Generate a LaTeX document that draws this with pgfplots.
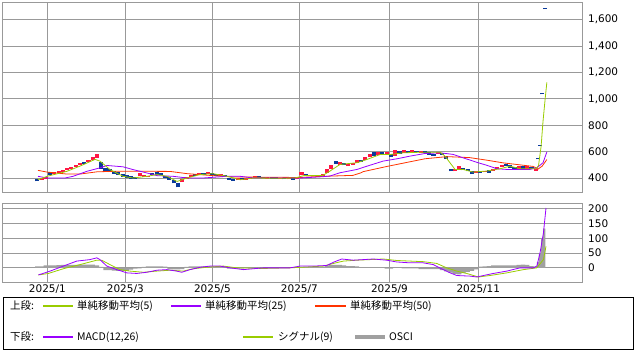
\documentclass[border=0pt]{standalone}
\usepackage{pgfplots}
\pgfplotsset{compat=1.18}
\usepackage{pgfplotstable}
\usepackage{fontspec}
\setmainfont{DejaVu Sans}
\newfontfamily\cjk{Noto Sans CJK JP}
\definecolor{gridgray}{HTML}{999999}
\definecolor{candleup}{HTML}{FF1744}
\definecolor{candledn}{HTML}{0A3A9A}
\definecolor{maA}{HTML}{99CC00}
\definecolor{maB}{HTML}{9900FF}
\definecolor{maC}{HTML}{FF3300}
\definecolor{oscigray}{HTML}{A0A0A0}

\pgfplotstableread{
d lo hi
2 385 398
4 392 408
8 432 448
10 440 455
12 448 462
14 458 475
16 470 485
18 482 500
20 495 515
24 520 540
26 535 560
28 555 585
48 415 435
50 410 425
52 405 418
68 370 392
70 395 410
72 410 425
76 420 435
80 428 442
86 415 428
94 382 398
98 388 400
100 392 405
102 400 412
108 395 405
114 392 402
118 390 402
122 392 404
124 425 448
130 415 425
134 418 430
136 440 470
138 470 500
142 500 520
146 490 505
148 500 515
150 515 535
154 535 560
156 560 585
160 578 598
164 575 595
168 570 612
172 590 610
176 590 612
180 592 606
188 580 595
196 450 468
198 468 490
206 440 455
210 442 455
214 455 468
216 465 480
218 480 500
226 470 490
230 472 490
234 455 470
}\upcandles

\pgfplotstableread{
d lo hi
0 375 390
6 420 445
22 505 525
30 470 520
32 455 478
34 445 465
36 430 455
38 425 445
40 410 430
42 400 420
44 395 412
46 395 410
54 420 438
56 425 442
58 420 438
60 402 415
62 385 405
64 360 385
66 330 360
74 415 430
78 425 440
82 425 438
84 418 430
88 410 425
90 388 402
92 380 395
96 385 398
104 403 415
106 398 410
110 395 405
112 393 404
116 390 400
120 388 400
126 418 432
128 412 425
132 412 424
140 505 530
144 495 512
152 520 540
158 570 595
162 580 598
166 560 580
170 585 605
174 588 605
178 595 608
182 588 602
184 575 595
186 568 585
190 578 592
192 545 565
194 450 470
200 458 475
202 450 465
204 430 455
208 438 452
212 440 458
220 488 505
222 475 495
224 465 485
228 470 488
232 468 485
235 541 549
236 643 651
237 1033 1041
238.2 1680 1688
}\dncandles

\pgfplotstableread{
d v
0 5
2 5
4 8
6 8
8 8
10 9
12 10
14 10
16 10
18 10
20 11
22 11
24 11
26 11
28 8
30 3
32 -8
34 -8
36 -9
38 -10
40 -10
42 -10
44 -6
46 -3
48 -2
50 3
52 5
54 5
56 5
58 5
60 4
62 -4
64 -5
66 -5
68 -4
70 3
72 5
74 5
76 5
78 5
80 5
82 5
84 4
86 4
88 2
90 -3
92 -3
94 -3
96 -2
98 1
100 1
102 1
104 1
106 1
108 1
110 1
112 1
114 1
116 1
118 1
120 2
122 2
124 3
126 3
128 3
130 3
132 3
134 3
136 8
138 10
140 10
142 10
144 8
146 6
148 6
150 5
152 2
154 2
156 2
158 2
160 2
162 2
164 -3
166 -3
168 1
170 1
172 -2
174 -2
176 -2
178 -2
180 -4
182 -4
184 -4
186 -4
188 -4
190 -8
192 -12
194 -16
196 -20
198 -22
200 -18
202 -14
204 -10
206 -5
208 4
210 5
212 6
214 8
216 8
218 8
220 8
222 8
224 8
226 10
228 11
230 10
232 6
234 4
}\osci

\pgfplotstableread{
d v
235 20
236 50
237 100
238 133
}\oscilast

\pgfplotsset{
  chartbase/.style={
    scale only axis, width=580bp,
    xmin=-16.6, xmax=255.7,
    xtick={4.7,41.3,82.2,123.0,165.3,207.0},
    grid=major,
    grid style={draw=gridgray, line width=0.8bp},
    axis line style={draw=gridgray, line width=0.8bp},
    major tick length=0pt,
    tick style={draw=none},
    yticklabel pos=right,
    /pgf/number format/assume math mode=true,
    /pgf/number format/1000 sep={,},
    tick label style={font=\fontsize{10.5}{12}\selectfont, text=black},
    yticklabel style={anchor=west, inner sep=0pt, xshift=6bp},
    xticklabel style={anchor=north, inner sep=0pt, yshift=-3bp},
  },
  candle/.style={line width=4.1bp, mark=none, forget plot,
    quiver={u=0, v={\thisrow{hi}-\thisrow{lo}}}},
}

\begin{document}
\begin{tikzpicture}
\useasboundingbox (-2bp,2bp) rectangle (634bp,-348bp);

\begin{axis}[chartbase,
  at={(0bp,0bp)}, anchor=north west,
  height=190bp,
  ymin=294, ymax=1734,
  ytick={400,600,800,1000,1200,1400,1600},
  xticklabels={},
]
\addplot[candle, draw=candleup] table[x=d, y=lo] {\upcandles};
\addplot[candle, draw=candledn] table[x=d, y=lo] {\dncandles};
% 50-day
\addplot[maC, line width=0.8bp, mark=none] coordinates {
(0.3,458) (4.6,445) (13.9,430) (20,430) (28,447) (38.8,452) (62.3,450) (70.3,433)
(82.5,418) (91.9,408) (123.3,404) (132.6,412) (148.2,420) (152,440) (152.9,448)
(164.2,488) (182,546) (192.3,562) (202.8,555) (211.1,535) (218.6,515) (232.7,488)
(235.1,468) (237,490) (239.2,540)};
% 25-day
\addplot[maB, line width=0.8bp, mark=none] coordinates {
(0.3,413) (4.6,400) (13,400) (16.8,413) (23.3,451) (29.4,477) (32.7,495) (40.2,485)
(44.9,464) (51.5,438) (56.2,418) (63.7,413) (70.3,400) (77.8,400) (89.1,413) (95.2,413)
(101.3,400) (123.3,400) (134.1,410) (137.4,415) (142.1,440) (150.1,465) (154.8,490)
(162.3,528) (168.9,546) (175,566) (182,586) (189.1,591) (195.2,579) (199.9,553)
(206.9,516) (211.1,496) (215.8,470) (220.5,465) (231.3,465) (234.6,478) (237.4,516) (239.2,597)};
% 5-day
\addplot[maA, line width=0.8bp, mark=none] coordinates {
(0.3,387) (4.6,413) (13.9,451) (20,490) (27.1,541) (29.4,528) (34.1,464) (40.2,413)
(44.9,400) (51.5,413) (56.2,426) (60.9,413) (65.6,374) (70.3,400) (76.4,426) (82.5,433)
(89.1,413) (95.2,387) (101.3,400) (113.9,398) (121,400) (125,418) (134.1,420) (137.4,453)
(142.1,503) (150.1,516) (154.8,541) (160.9,578) (165.6,578) (171.7,591) (181.1,596)
(189.1,596) (191.4,566) (193.7,516) (196.1,465) (199.9,465) (204.5,445) (211.1,453)
(217.2,470) (221.9,490) (226.6,470) (232.7,470) (234.1,470) (235.3,495) (236.5,640)
(237.4,830) (238.4,1000) (239.2,1125)};
\end{axis}

\begin{axis}[chartbase,
  at={(0bp,-201bp)}, anchor=north west,
  height=79bp,
  ymin=-48, ymax=220,
  ytick={0,50,100,150,200},
  xticklabels={2025/1,2025/3,2025/5,2025/7,2025/9,2025/11},
]
\addplot[ybar, bar width=4.3bp, bar shift=0pt, fill=oscigray, draw=none, forget plot]
  table[x=d, y=v] {\osci};
\addplot[ybar, bar width=2.2bp, bar shift=0pt, fill=oscigray, draw=none, forget plot]
  table[x=d, y=v] {\oscilast};
% signal
\addplot[maA, line width=0.8bp, mark=none] coordinates {
(0.5,-24) (5.2,-19) (12.2,-3) (20,11) (27.9,26) (30.2,26) (34.1,11) (38.8,-6) (43.5,-11)
(49.8,-15) (56.1,-11) (62.3,-8) (68.5,-11) (73.2,-3) (79.5,2) (87.3,6) (93.6,0)
(106.1,-2) (118.6,0) (134.3,6) (139,15) (143.7,23) (150,26) (162.4,30) (168.7,25)
(181.2,21) (187.5,15) (192.2,0) (196.9,-11) (201.6,-19) (207,-31) (212.5,-26)
(220.4,-17) (228.2,-6) (234.5,0) (237.6,28) (238.8,73)};
% MACD
\addplot[maB, line width=0.8bp, mark=none] coordinates {
(0.5,-24) (6,-11) (12.2,6) (18.5,23) (24.7,28) (27.9,34) (29.4,28) (32.6,6) (37.3,-6)
(42,-17) (46.7,-19) (51.4,-15) (56.1,-8) (60.8,-6) (65.4,-11) (67.8,-15) (71.7,-6)
(76.4,2) (81.1,6) (85.8,6) (90.5,0) (96.7,-6) (106.1,0) (118.6,0) (123.3,6) (129.6,6)
(135.9,8) (139,19) (142.9,30) (148.4,26) (157.7,30) (164,26) (168.7,20) (175,17)
(181.2,17) (185.9,11) (190.6,-6) (193.8,-17) (196.9,-26) (203.1,-28) (206.3,-31)
(209.4,-26) (214.1,-19) (220.4,-11) (226.6,0) (232.9,0) (234.5,6) (236,51) (237.6,119) (238.8,203)};
\end{axis}

% legend box
\draw[black, line width=0.8bp] (1bp,-295bp) rectangle (631bp,-347bp);
\begin{scope}[every node/.style={anchor=west, inner sep=0pt, font=\cjk\fontsize{10.5}{12}\selectfont}]
\node at (8bp,-304bp) {上段:};
\draw[maA, line width=1.2bp] (41bp,-304bp) -- (71bp,-304bp);
\node at (75bp,-304bp) {単純移動平均(5)};
\draw[maB, line width=1.2bp] (169bp,-304bp) -- (199bp,-304bp);
\node at (203bp,-304bp) {単純移動平均(25)};
\draw[maC, line width=1.2bp] (313bp,-304bp) -- (344bp,-304bp);
\node at (348bp,-304bp) {単純移動平均(50)};
\node at (8bp,-335bp) {下段:};
\draw[maB, line width=1.2bp] (41bp,-335bp) -- (71bp,-335bp);
\node at (75bp,-335bp) {MACD(12,26)};
\draw[maA, line width=1.2bp] (241bp,-335bp) -- (271bp,-335bp);
\node at (276bp,-335bp) {シグナル(9)};
\draw[oscigray, line width=3.5bp] (353bp,-335bp) -- (383bp,-335bp);
\node at (387bp,-335bp) {OSCI};
\end{scope}
\end{tikzpicture}
\end{document}
